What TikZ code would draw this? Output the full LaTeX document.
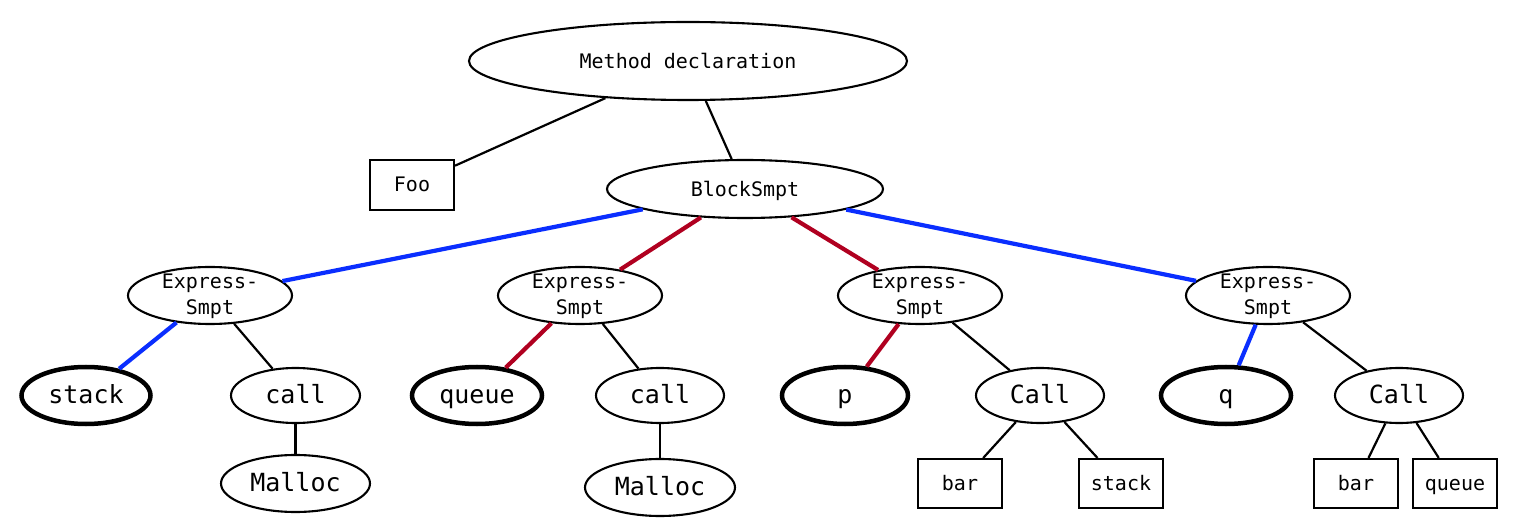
\documentclass[tikz,border=0pt]{standalone}
\usepackage{fontspec}
\setmonofont{DejaVu Sans Mono}
\usetikzlibrary{shapes.geometric}
\definecolor{eblue}{HTML}{0A2EFF}
\definecolor{ered}{HTML}{B00020}
\tikzset{
  el/.style={draw, ellipse, line width=2.1pt, inner sep=0pt, text height=21pt, text depth=5pt, font=\ttfamily\fontsize{25}{25}\selectfont},
  sel/.style={el, text height=18.5pt, text depth=4pt, font=\ttfamily\fontsize{20}{26}\selectfont, align=center},
  bel/.style={el, line width=4.5pt},
  bx/.style={draw, rectangle, line width=2.1pt, inner sep=0pt, text height=18pt, text depth=4pt, font=\ttfamily\fontsize{20}{20}\selectfont},
  bl/.style={line width=2.2pt},
  be/.style={line width=4.2pt, eblue},
  re/.style={line width=4.2pt, ered},
}
\begin{document}
\begin{tikzpicture}[x=1pt,y=-1pt]
\useasboundingbox (0,0) rectangle (1526,526);
% top
\node[sel, minimum width=438pt, minimum height=78pt] (md) at (688,61) {Method declaration};
\node[bx, minimum width=84pt, minimum height=50pt] (foo) at (412,185) {Foo};
\node[sel, minimum width=276pt, minimum height=58pt] (bs) at (745,189) {BlockSmpt};
% express
\node[sel, minimum width=164pt, minimum height=57pt] (e1) at (210,295.5) {};
\node[sel, minimum width=164pt, minimum height=57pt] (e2) at (580,295.5) {};
\node[sel, minimum width=164pt, minimum height=57pt] (e3) at (920,295.5) {};
\node[sel, minimum width=164pt, minimum height=57pt] (e4) at (1268,295.5) {};
\foreach \n in {e1,e2,e3,e4}{
  \node[font=\ttfamily\fontsize{20}{26}\selectfont, align=center, inner sep=0pt] at ([yshift=-1pt]\n.center) {Express-\\Smpt};
}
% level 3
\node[bel, minimum width=129pt, minimum height=57pt] (stk) at (86,395.5) {stack};
\node[el, minimum width=129pt, minimum height=55pt] (c1) at (295.5,395.5) {call};
\node[el, minimum width=149pt, minimum height=57pt] (m1) at (295.5,483.5) {Malloc};
\node[bel, minimum width=130pt, minimum height=57pt] (que) at (477,395.5) {queue};
\node[el, minimum width=128pt, minimum height=55pt] (c2) at (660,395.5) {call};
\node[el, minimum width=150pt, minimum height=57pt] (m2) at (660,487.5) {Malloc};
\node[bel, minimum width=126pt, minimum height=57pt] (p) at (845,395.5) {p};
\node[el, minimum width=128pt, minimum height=55pt] (c3) at (1040,395.5) {Call};
\node[bx, minimum width=84pt, minimum height=49pt] (b3) at (960,483.5) {bar};
\node[bx, minimum width=84pt, minimum height=49pt] (s3) at (1121,483.5) {stack};
\node[bel, minimum width=130pt, minimum height=57pt] (q) at (1226,395.5) {q};
\node[el, minimum width=128pt, minimum height=55pt] (c4) at (1399,395.5) {Call};
\node[bx, minimum width=84pt, minimum height=49pt] (b4) at (1356,483.5) {bar};
\node[bx, minimum width=84pt, minimum height=49pt] (q4) at (1455,483.5) {queue};
% edges
\draw[bl] (md) -- (foo);
\draw[bl] (md) -- (bs);
\draw[be] (bs) -- (e1);
\draw[re] (bs) -- (e2);
\draw[re] (bs) -- (e3);
\draw[be] (bs) -- (e4);
\draw[be] (e1) -- (stk);
\draw[bl] (e1) -- (c1);
\draw[bl] (c1) -- (m1);
\draw[re] (e2) -- (que);
\draw[bl] (e2) -- (c2);
\draw[bl] (c2) -- (m2);
\draw[re] (e3) -- (p);
\draw[bl] (e3) -- (c3);
\draw[bl] (c3) -- (b3);
\draw[bl] (c3) -- (s3);
\draw[be] (e4) -- (q);
\draw[bl] (e4) -- (c4);
\draw[bl] (c4) -- (b4);
\draw[bl] (c4) -- (q4);
\end{tikzpicture}
\end{document}
